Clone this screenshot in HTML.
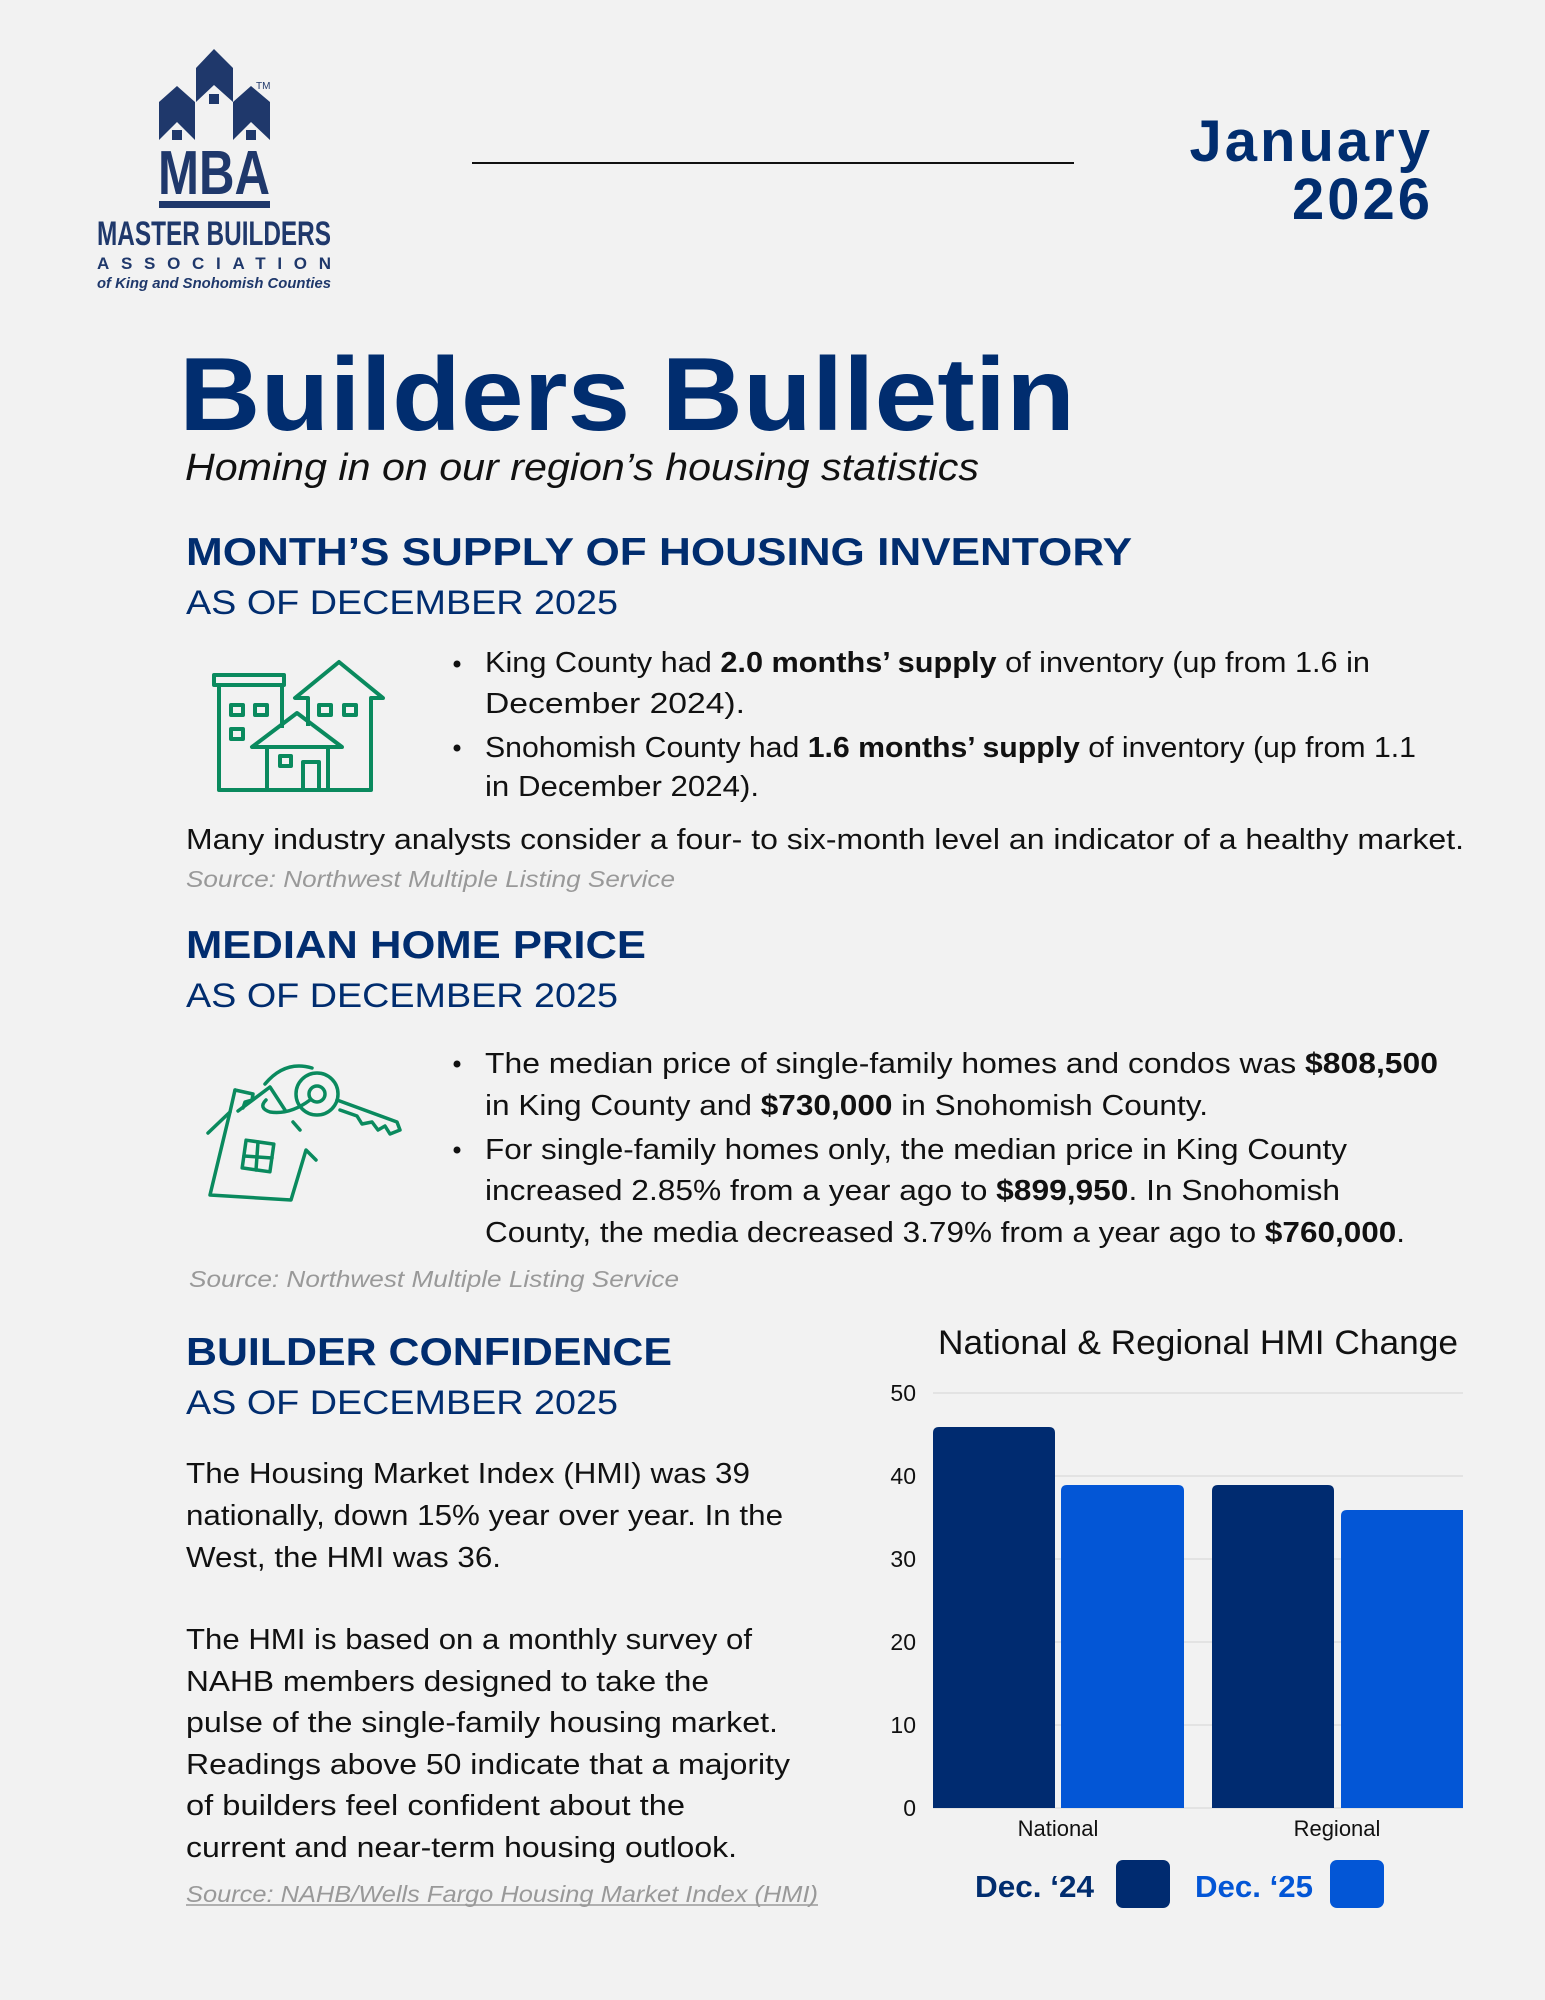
<!DOCTYPE html>
<html><head><meta charset="utf-8"><style>
html,body{margin:0;padding:0;background:#f2f2f2;}
svg{display:block;}
text{font-family:"Liberation Sans",sans-serif;}
</style></head><body>
<svg width="1545" height="2000" viewBox="0 0 1545 2000" xmlns="http://www.w3.org/2000/svg">
<rect width="1545" height="2000" fill="#f2f2f2"/>
<!-- Logo -->
<g fill="#1f386b">
<path d="M159 102 L177 86 L195 102 L195 140 L177 122 L159 140 Z"/>
<path d="M196 68 L214 49 L233 68 L233 102 L214 85 L196 102 Z"/>
<path d="M233 102 L251 86 L270 102 L270 140 L251 122 L233 140 Z"/>
<rect x="172" y="130" width="10" height="10"/>
<rect x="209" y="94" width="10" height="10"/>
<rect x="246" y="130" width="10" height="10"/>
</g>
<text x="214" y="194" text-anchor="middle" font-size="62" font-weight="bold" fill="#1f386b" textLength="112" lengthAdjust="spacingAndGlyphs">MBA</text>
<rect x="159" y="201" width="111" height="7" fill="#1f386b"/>
<text x="256" y="89" font-size="10" fill="#1f386b">TM</text>
<text x="97" y="245" font-size="34" font-weight="bold" fill="#1f386b" textLength="234" lengthAdjust="spacingAndGlyphs">MASTER BUILDERS</text>
<text x="97" y="269" font-size="17" font-weight="bold" fill="#1f386b" textLength="234" lengthAdjust="spacing">ASSOCIATION</text>
<text x="97" y="288" font-size="15" font-weight="bold" font-style="italic" fill="#1f386b" textLength="234" lengthAdjust="spacingAndGlyphs">of King and Snohomish Counties</text>
<!-- Date -->
<line x1="472" y1="163" x2="1074" y2="163" stroke="#111" stroke-width="2"/>
<text x="1433" y="161" text-anchor="end" font-size="58" font-weight="bold" fill="#012d6f" letter-spacing="3">January</text>
<text x="1433" y="219" text-anchor="end" font-size="58" font-weight="bold" fill="#012d6f" letter-spacing="3">2026</text>
<!-- Title -->
<text x="179" y="430" font-size="104" font-weight="bold" fill="#012d6f" textLength="896" lengthAdjust="spacingAndGlyphs">Builders Bulletin</text>
<text x="185" y="480" font-size="38" font-style="italic" fill="#111" textLength="794" lengthAdjust="spacingAndGlyphs">Homing in on our region’s housing statistics</text>
<!-- Section 1 -->
<text x="186" y="565" font-size="39" font-weight="bold" fill="#012d6f" textLength="946" lengthAdjust="spacingAndGlyphs">MONTH’S SUPPLY OF HOUSING INVENTORY</text>
<text x="186" y="614" font-size="34" fill="#012d6f" textLength="432" lengthAdjust="spacingAndGlyphs">AS OF DECEMBER 2025</text>
<g fill="none" stroke="#0a8a5e" stroke-width="4" stroke-linejoin="round">
<rect x="214" y="675" width="70" height="10"/>
<path d="M219 685 L219 790 L371 790 L371 698 L383 698 L339 662 L295 698 L308 698 L308 726"/>
<path d="M282 685 L282 728"/>
<path d="M297 713 L252 747 L342 747 Z"/>
<path d="M267 747 L267 790 M328 747 L328 790"/>
<path d="M303 790 L303 762 L319 762 L319 790"/>
<rect x="280" y="756" width="11" height="10"/>
<rect x="231" y="705" width="12" height="10"/><rect x="255" y="705" width="12" height="10"/><rect x="231" y="729" width="12" height="10"/>
<rect x="319" y="705" width="12" height="10"/><rect x="344" y="705" width="12" height="10"/>
</g>
<g font-size="29" fill="#111">
<circle cx="457" cy="664" r="3.5" fill="#111"/>
<text x="485" y="672" textLength="885" lengthAdjust="spacingAndGlyphs">King County had <tspan font-weight="bold">2.0 months’ supply</tspan> of inventory (up from 1.6 in</text>
<text x="485" y="713" textLength="260" lengthAdjust="spacingAndGlyphs">December 2024).</text>
<circle cx="457" cy="748" r="3.5" fill="#111"/>
<text x="485" y="757" textLength="931" lengthAdjust="spacingAndGlyphs">Snohomish County had <tspan font-weight="bold">1.6 months’ supply</tspan> of inventory (up from 1.1</text>
<text x="485" y="796" textLength="274" lengthAdjust="spacingAndGlyphs">in December 2024).</text>
<text x="186" y="849" textLength="1278" lengthAdjust="spacingAndGlyphs">Many industry analysts consider a four- to six-month level an indicator of a healthy market.</text>
</g>
<text x="186" y="887" font-size="23" font-style="italic" fill="#999" textLength="489" lengthAdjust="spacingAndGlyphs">Source: Northwest Multiple Listing Service</text>
<!-- Section 2 -->
<text x="186" y="958" font-size="39" font-weight="bold" fill="#012d6f" textLength="460" lengthAdjust="spacingAndGlyphs">MEDIAN HOME PRICE</text>
<text x="186" y="1007" font-size="34" fill="#012d6f" textLength="432" lengthAdjust="spacingAndGlyphs">AS OF DECEMBER 2025</text>
<g fill="none" stroke="#0a8a5e" stroke-width="3.5" stroke-linecap="round" stroke-linejoin="round">
<path d="M235 1090 L230 1112 L208 1133"/>
<path d="M230 1112 L210 1195 L291 1200 L306 1150 L316 1160"/>
<path d="M235 1090 L253 1094 L252 1100 L245 1102 L243 1108"/>
<path d="M238 1111 L270 1087 L285 1110"/>
<path d="M293 1122 L300 1130"/>
<rect x="244" y="1142" width="28" height="28" transform="rotate(8 258 1156)"/>
<path d="M258 1142 L256 1170 M244 1156 L272 1158"/>
<path d="M265 1084 Q285 1060 312 1068"/>
<circle cx="317" cy="1094" r="21"/>
<circle cx="317" cy="1094" r="8"/>
<path d="M310 1100 Q290 1115 270 1112 Q258 1108 266 1100"/>
<path d="M337 1100 L397 1122 L400 1130 L390 1134 L385 1126 L378 1130 L372 1122 L362 1124 L357 1116 L340 1110"/>
</g>
<g font-size="29" fill="#111">
<circle cx="457" cy="1064" r="3.5" fill="#111"/>
<text x="485" y="1073" textLength="953" lengthAdjust="spacingAndGlyphs">The median price of single-family homes and condos was <tspan font-weight="bold">$808,500</tspan></text>
<text x="485" y="1115" textLength="723" lengthAdjust="spacingAndGlyphs">in King County and <tspan font-weight="bold">$730,000</tspan> in Snohomish County.</text>
<circle cx="457" cy="1150" r="3.5" fill="#111"/>
<text x="485" y="1159" textLength="862" lengthAdjust="spacingAndGlyphs">For single-family homes only, the median price in King County</text>
<text x="485" y="1200" textLength="855" lengthAdjust="spacingAndGlyphs">increased 2.85% from a year ago to <tspan font-weight="bold">$899,950</tspan>. In Snohomish</text>
<text x="485" y="1242" textLength="920" lengthAdjust="spacingAndGlyphs">County, the media decreased 3.79% from a year ago to <tspan font-weight="bold">$760,000</tspan>.</text>
</g>
<text x="189" y="1287" font-size="23" font-style="italic" fill="#999" textLength="490" lengthAdjust="spacingAndGlyphs">Source: Northwest Multiple Listing Service</text>
<!-- Section 3 -->
<text x="186" y="1365" font-size="39" font-weight="bold" fill="#012d6f" textLength="486" lengthAdjust="spacingAndGlyphs">BUILDER CONFIDENCE</text>
<text x="186" y="1414" font-size="34" fill="#012d6f" textLength="432" lengthAdjust="spacingAndGlyphs">AS OF DECEMBER 2025</text>
<g font-size="29" fill="#111">
<text x="186" y="1483" textLength="564" lengthAdjust="spacingAndGlyphs">The Housing Market Index (HMI) was 39</text>
<text x="186" y="1525" textLength="597" lengthAdjust="spacingAndGlyphs">nationally, down 15% year over year. In the</text>
<text x="186" y="1567" textLength="315" lengthAdjust="spacingAndGlyphs">West, the HMI was 36.</text>
<text x="186" y="1649" textLength="566" lengthAdjust="spacingAndGlyphs">The HMI is based on a monthly survey of</text>
<text x="186" y="1691" textLength="523" lengthAdjust="spacingAndGlyphs">NAHB members designed to take the</text>
<text x="186" y="1732" textLength="592" lengthAdjust="spacingAndGlyphs">pulse of the single-family housing market.</text>
<text x="186" y="1774" textLength="604" lengthAdjust="spacingAndGlyphs">Readings above 50 indicate that a majority</text>
<text x="186" y="1815" textLength="499" lengthAdjust="spacingAndGlyphs">of builders feel confident about the</text>
<text x="186" y="1857" textLength="551" lengthAdjust="spacingAndGlyphs">current and near-term housing outlook.</text>
</g>
<text x="186" y="1902" font-size="23" font-style="italic" fill="#999" textLength="632" lengthAdjust="spacingAndGlyphs">Source: NAHB/Wells Fargo Housing Market Index (HMI)</text>
<line x1="186" y1="1905" x2="818" y2="1905" stroke="#999" stroke-width="1.5"/>
<!-- Chart -->
<text x="938" y="1354" font-size="34" fill="#111" textLength="520" lengthAdjust="spacingAndGlyphs">National &amp; Regional HMI Change</text>
<g stroke="#dedede" stroke-width="1.5">
<line x1="933" y1="1393" x2="1463" y2="1393"/><line x1="933" y1="1476" x2="1463" y2="1476"/>
<line x1="933" y1="1559" x2="1463" y2="1559"/><line x1="933" y1="1642" x2="1463" y2="1642"/>
<line x1="933" y1="1725" x2="1463" y2="1725"/><line x1="933" y1="1808" x2="1463" y2="1808"/>
</g>
<g font-size="23" fill="#111" text-anchor="end">
<text x="916" y="1401">50</text><text x="916" y="1484">40</text><text x="916" y="1567">30</text>
<text x="916" y="1650">20</text><text x="916" y="1733">10</text><text x="916" y="1816">0</text>
</g>
<path d="M933 1808 V1433 Q933 1427 939 1427 H1049 Q1055 1427 1055 1433 V1808Z" fill="#002b70"/>
<path d="M1061 1808 V1491 Q1061 1485 1067 1485 H1178 Q1184 1485 1184 1491 V1808Z" fill="#0356d6"/>
<path d="M1212 1808 V1491 Q1212 1485 1218 1485 H1328 Q1334 1485 1334 1491 V1808Z" fill="#002b70"/>
<path d="M1341 1808 V1516 Q1341 1510 1347 1510 H1463 V1808Z" fill="#0356d6"/>
<g font-size="22" fill="#111" text-anchor="middle">
<text x="1058" y="1836">National</text><text x="1337" y="1836">Regional</text>
</g>
<text x="975" y="1897" font-size="31" font-weight="bold" fill="#012d6f" textLength="119" lengthAdjust="spacingAndGlyphs">Dec. ‘24</text>
<rect x="1116" y="1860" width="54" height="48" rx="7" fill="#002b70"/>
<text x="1195" y="1897" font-size="31" font-weight="bold" fill="#0356d6" textLength="118" lengthAdjust="spacingAndGlyphs">Dec. ‘25</text>
<rect x="1330" y="1860" width="54" height="48" rx="7" fill="#0356d6"/>
</svg>
</body></html>
